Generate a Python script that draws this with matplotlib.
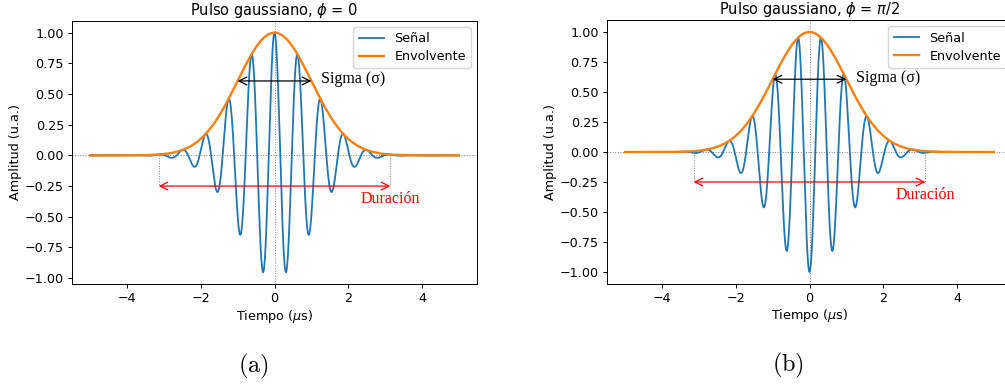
import numpy as np
import matplotlib
matplotlib.use("Agg")
import matplotlib.pyplot as plt

plt.rcParams['mathtext.fontset'] = 'dejavusans'

# ---- data / parameters ----
t_min, t_max = -5.0, 5.0
sigma = 1.0            # µs
freq = 1.6             # MHz
phase_offsets = [0.0, np.pi]          # carrier phase as drawn in (a), (b)
titles = [r'Pulso gaussiano, $\phi$ = 0', r'Pulso gaussiano, $\phi$ = $\pi$/2']
panel_labels = ['(a)', '(b)']
duration_half = np.pi
legend_labels = ['Señal', 'Envolvente']
xticks = [-4, -2, 0, 2, 4]
yticks = [-1.00, -0.75, -0.50, -0.25, 0.00, 0.25, 0.50, 0.75, 1.00]

t = np.linspace(t_min, t_max, 4000)
envelope = np.exp(-t**2 / (2 * sigma**2))

W, H = 1005, 386
fig = plt.figure(figsize=(W / 100, H / 100), dpi=100)

ax_boxes = [(71.7, 20.7, 405.6, 263.6), (606.7, 20.0, 405.6, 264.0)]
label_pos = [(253, 366), (788, 365)]

serif = 'Liberation Serif'
fs = 9.2
for i, (ph, title) in enumerate(zip(phase_offsets, titles)):
    x0, ytop, w, h = ax_boxes[i]
    ax = fig.add_axes([x0 / W, (H - ytop - h) / H, w / W, h / H])
    signal = envelope * np.cos(2 * np.pi * freq * t + ph)
    ax.axhline(0, color='gray', lw=0.7, ls=':', zorder=0)
    ax.axvline(0, color='gray', lw=0.7, ls=':', zorder=0)
    ax.plot(t, signal, color='#1f77b4', lw=1.3, label=legend_labels[0])
    ax.plot(t, envelope, color='#ff7f0e', lw=1.7, label=legend_labels[1])

    ys = np.exp(-0.5)
    ax.annotate('', xy=(sigma, ys), xytext=(-sigma, ys),
                arrowprops=dict(arrowstyle='<->', color='k', lw=0.9,
                                shrinkA=0, shrinkB=0, mutation_scale=14))
    ax.text(1.25, 0.62, 'Sigma (σ)', family=serif, fontsize=11.5,
            ha='left', va='center')

    yd = -0.25
    for s in (-1, 1):
        ax.plot([s * duration_half, s * duration_half], [0, yd], color='gray',
                lw=0.7, ls=':')
    ax.annotate('', xy=(duration_half, yd), xytext=(-duration_half, yd),
                arrowprops=dict(arrowstyle='<->', color='red', lw=0.9,
                                shrinkA=0, shrinkB=0, mutation_scale=14))
    ax.text(duration_half, -0.355, 'Duración', family=serif, fontsize=11.5,
            color='red', ha='center', va='center')

    ax.set_xticks(xticks)
    ax.set_yticks(yticks)
    ax.tick_params(labelsize=fs, length=3, width=0.7, pad=2.5)
    ax.set_xlabel(r'Tiempo ($\mu$s)', fontsize=fs, labelpad=2)
    ax.set_ylabel('Amplitud (u.a.)', fontsize=fs, labelpad=2)
    ax.set_title(title, fontsize=10.5, pad=4)
    for sp in ax.spines.values():
        sp.set_linewidth(0.7)
    ax.legend(loc='upper right', fontsize=fs, framealpha=0.8,
              handlelength=2, borderpad=0.4, labelspacing=0.4)

    fig.text(label_pos[i][0] / W, 1 - label_pos[i][1] / H,
             r'$\mathrm{' + panel_labels[i] + '}$', math_fontfamily='cm',
             fontsize=17.5, ha='center', va='center')

fig.savefig('out.png', dpi=100)
